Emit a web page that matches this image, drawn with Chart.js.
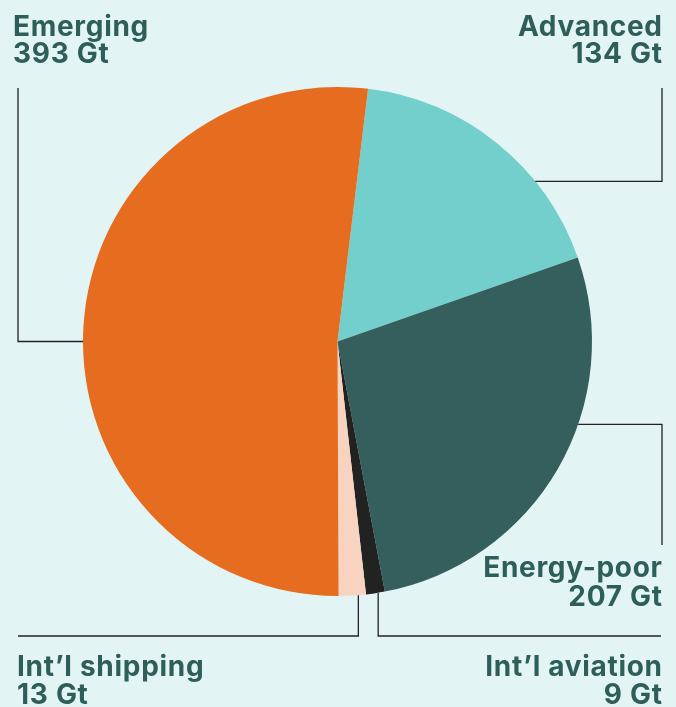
<!DOCTYPE html>
<html>
<head>
<meta charset="utf-8">
<script src="https://cdn.jsdelivr.net/npm/chart.js@4"></script>
<style>
  html, body { margin: 0; padding: 0; background: #e2f4f4; }
  canvas { display: block; }
</style>
</head>
<body>
<canvas id="emissionsPie" width="676" height="707"></canvas>
<script>
const labels = ['Advanced', 'Energy-poor', 'Int\u2019l aviation', 'Int\u2019l shipping', 'Emerging'];
const values = [134, 207, 9, 13, 393];
const units = 'Gt';
const colors = ['#72cfcb', '#355f5d', '#222222', '#f8d3c0', '#e66c1f'];

// where each label sits and how its leader line runs
const callouts = [
  { angle: 51, elbowX: 662, labelY: 88, textX: 662, align: 'right', baselines: [36, 63] },
  { angle: 109, elbowX: 662, labelY: 545, textX: 662, align: 'right', baselines: [577, 606] },
  { angle: 170.8, elbowY: 636, endX: 661, textX: 662, align: 'right', baselines: [676, 704] },
  { angle: 175.3, elbowY: 636, endX: 18, textX: 17, align: 'left', baselines: [676, 704] },
  { angle: 270, elbowX: 18, labelY: 88, textX: 13, align: 'left', baselines: [36, 63] }
];

const calloutPlugin = {
  id: 'callouts',
  afterDraw(chart) {
    const ctx = chart.ctx;
    const arcs = chart.getDatasetMeta(0).data;
    ctx.save();
    ctx.strokeStyle = '#222222';
    ctx.lineWidth = 1.3;
    callouts.forEach((c, i) => {
      const arc = arcs[i];
      const a = (c.angle - 90) * Math.PI / 180;
      const px = arc.x + arc.outerRadius * Math.cos(a);
      const py = arc.y + arc.outerRadius * Math.sin(a);
      ctx.beginPath();
      ctx.moveTo(px, py);
      if (c.elbowX !== undefined) {
        ctx.lineTo(c.elbowX, py);
        ctx.lineTo(c.elbowX, c.labelY);
      } else {
        ctx.lineTo(px, c.elbowY);
        ctx.lineTo(c.endX, c.elbowY);
      }
      ctx.stroke();

      ctx.fillStyle = '#2e5e5a';
      ctx.font = '700 28px Inter';
      ctx.letterSpacing = '0.7px';
      ctx.textAlign = c.align;
      ctx.textBaseline = 'alphabetic';
      // right-aligned text carries the trailing spacing, shift it back
      const x = c.align === 'right' ? c.textX + 0.7 : c.textX;
      ctx.fillText(labels[i], x, c.baselines[0]);
      ctx.fillText(values[i] + ' ' + units, x, c.baselines[1]);
    });
    ctx.restore();
  }
};

new Chart(document.getElementById('emissionsPie').getContext('2d'), {
  type: 'pie',
  data: {
    labels: labels,
    datasets: [{
      data: values,
      backgroundColor: colors,
      borderWidth: 0
    }]
  },
  options: {
    responsive: false,
    animation: false,
    rotation: 6.9,
    layout: { padding: { left: 83, right: 84, top: 87, bottom: 111 } },
    plugins: { legend: { display: false }, tooltip: { enabled: false } }
  },
  plugins: [calloutPlugin]
});
</script>
</body>
</html>
